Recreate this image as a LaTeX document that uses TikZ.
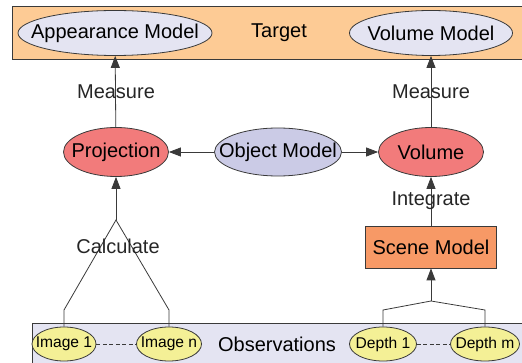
\documentclass[tikz,border=0pt]{standalone}
\usepackage{fontspec}
\setmainfont{Liberation Sans}
\usetikzlibrary{arrows.meta,positioning,shapes.geometric}

\definecolor{targetorange}{HTML}{FDCB95}
\definecolor{modelblue}{HTML}{E4E4F2}
\definecolor{objblue}{HTML}{CBCBE6}
\definecolor{opred}{HTML}{F27B7B}
\definecolor{sceneorange}{HTML}{F79966}
\definecolor{obsyellow}{HTML}{F4F096}
\definecolor{linegray}{HTML}{3A3A3A}

% zero-width text, so the ellipse takes its size from minimum width
\newcommand{\nowidth}[1]{\makebox[0pt]{#1}}

\tikzset{
  every picture/.style={line width=0.8pt},
  bigfont/.style={font=\fontsize{20}{24}\selectfont},
  smallfont/.style={font=\fontsize{15.6}{19}\selectfont},
  band/.style={rectangle, draw=linegray, inner sep=0pt},
  model/.style={ellipse, draw=linegray, fill=modelblue, inner sep=0pt, minimum height=45, bigfont},
  operation/.style={ellipse, draw=linegray, fill=opred, inner sep=0pt, minimum width=105, minimum height=49, bigfont},
  obs/.style={ellipse, draw=linegray, fill=obsyellow, inner sep=0pt, minimum height=34, smallfont},
  flow/.style={draw=linegray, -{Triangle[length=12pt,width=9pt]}},
  linkline/.style={draw=linegray},
  elabel/.style={bigfont, text=black!85}
}

\begin{document}
\begin{tikzpicture}[x=1pt,y=-1pt]
  \useasboundingbox (0,0) rectangle (522,363);
  \clip (0,0) rectangle (522,363);

  % target band
  \node[band, fill=targetorange, anchor=north west, minimum width=540, minimum height=53] (target) at (12,6) {};
  \node[bigfont] (targettext) at (279,33) {Target};
  \node[model, minimum width=194] (appear) at (115,33) {\nowidth{Appearance Model}};
  \node[model, minimum width=163] (volmodel) at (431,33) {\nowidth{Volume Model}};

  % middle row
  \node[operation] (proj) at (116,152) {\nowidth{Projection}};
  \node[ellipse, draw=linegray, fill=objblue, inner sep=0pt, minimum width=127, minimum height=48, bigfont] (object) at (278,152) {\nowidth{Object Model}};
  \node[operation] (volume) at (431,152) {\nowidth{Volume}};
  \node[band, fill=sceneorange, minimum width=131, minimum height=42, bigfont] (scene) at (431,247) {Scene Model};

  % observations band
  \node[band, fill=modelblue, anchor=north west, minimum width=520, minimum height=40] (obsband) at (32,323) {};
  \node[bigfont] (obstext) at (277,344) {Observations};
  \node[obs, minimum width=64] (img1) at (64,344) {\nowidth{Image 1}};
  \node[obs, minimum width=65] (imgn) at (169,344) {\nowidth{Image n}};
  \node[obs, minimum width=67] (dep1) at (383,344) {\nowidth{Depth 1}};
  \node[obs, minimum width=69] (depm) at (485,344) {\nowidth{Depth m}};

  \draw[linkline, dash pattern=on 4pt off 2.5pt] (img1) -- (imgn);
  \draw[linkline, dash pattern=on 4pt off 2.5pt] (dep1) -- (depm);

  % connectors
  \coordinate (calcjoin) at (116,220);
  \coordinate (depjoin) at (431,301);
  \draw[linkline] (img1.north) -- (64,310) -- (calcjoin) -- (169,310) -- (imgn.north);
  \draw[linkline] (dep1.north) -- (383,310) -- (depjoin) -- (485,310) -- (depm.north);
  \draw[flow] (calcjoin) -- (proj);
  \draw[flow] (depjoin) -- (scene);
  \draw[flow] (scene) -- (volume);
  \draw[flow] (object) -- (proj);
  \draw[flow] (object) -- (volume);
  \draw[flow] (proj) -- (appear);
  \draw[flow] (volume) -- (volmodel);

  \node[elabel] (measure1) at (116,92) {Measure};
  \node[elabel] (measure2) at (431,92) {Measure};
  \node[elabel] (integrate) at (431,201) {Integrate};
  \node[elabel] (calculate) at (118,246) {Calculate};
\end{tikzpicture}
\end{document}
